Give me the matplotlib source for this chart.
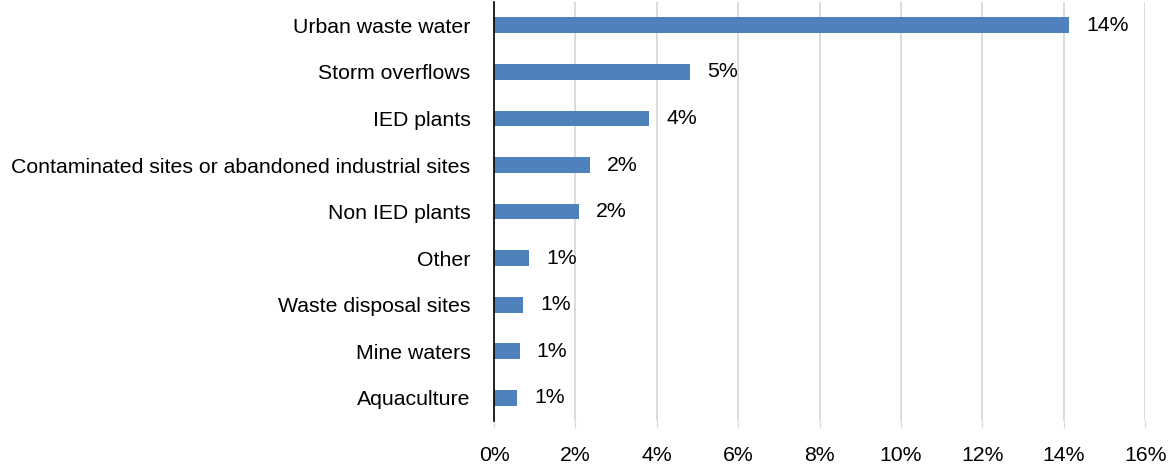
import matplotlib
matplotlib.use("Agg")
import matplotlib.pyplot as plt
from matplotlib.ticker import FuncFormatter, MultipleLocator

plt.rcParams["font.family"] = ["Liberation Sans", "DejaVu Sans"]

categories = ["Urban waste water", "Storm overflows", "IED plants",
              "Contaminated sites or abandoned industrial sites", "Non IED plants",
              "Other", "Waste disposal sites", "Mine waters", "Aquaculture"]
values = [14.14, 4.81, 3.82, 2.36, 2.08, 0.86, 0.72, 0.63, 0.56]
labels = ["14%", "5%", "4%", "2%", "2%", "1%", "1%", "1%", "1%"]

fig = plt.figure(figsize=(11.69, 4.67), dpi=100)
ax = fig.add_axes([0.4226, 0.0985, 0.557, 0.897])

y = list(range(len(categories)))
ax.barh(y, values, height=0.34, color="#4f81bd", zorder=3)
ax.set_ylim(len(categories) - 0.5, -0.5)
ax.set_yticks(y)
ax.set_yticklabels(categories, fontsize=15.3)
ax.tick_params(axis="y", length=0, pad=17)

ax.set_xlim(0, 16)
ax.xaxis.set_major_locator(MultipleLocator(2))
ax.xaxis.set_major_formatter(FuncFormatter(lambda v, p: f"{v:.0f}%"))
ax.tick_params(axis="x", labelsize=15.3, length=5, color="#d9d9d9", pad=13)
ax.grid(axis="x", color="#d9d9d9", linewidth=1.3, zorder=0)

for s in ["top", "right", "bottom"]:
    ax.spines[s].set_visible(False)
ax.spines["left"].set_color("black")
ax.spines["left"].set_linewidth(1.2)
ax.spines["left"].set_zorder(4)

for yi, v, lab in zip(y, values, labels):
    ax.text(v + 0.42, yi, lab, va="center", ha="left", fontsize=15.3, color="black")

fig.savefig("out.png", dpi=100)
